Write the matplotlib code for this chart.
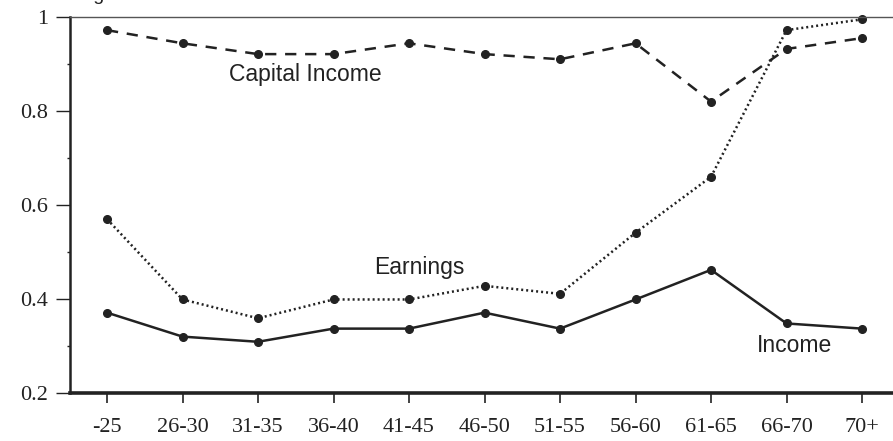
import matplotlib
matplotlib.use('Agg')
import matplotlib.pyplot as plt

age_groups = ['-25', '26-30', '31-35', '36-40', '41-45', '46-50',
              '51-55', '56-60', '61-65', '66-70', '70+']
capital_income = [0.972, 0.944, 0.921, 0.921, 0.944, 0.921,
                  0.910, 0.944, 0.820, 0.932, 0.955]
earnings = [0.570, 0.399, 0.359, 0.399, 0.399, 0.428,
            0.411, 0.541, 0.660, 0.972, 0.995]
income = [0.371, 0.320, 0.309, 0.337, 0.337, 0.371,
          0.337, 0.399, 0.462, 0.348, 0.337]

ink = '#222222'

def main():
  fig = plt.figure(figsize=(8.93, 4.41), dpi=100)
  ax = fig.add_axes([0.0784, 0.1088, 0.9216, 0.8527])
  x = list(range(len(age_groups)))

  ax.plot(x, capital_income, color=ink, lw=1.8, ls=(0, (4.5, 3.5)),
          marker='o', ms=5.5, clip_on=False)
  ax.plot(x, earnings, color=ink, lw=1.8, ls=(0, (0.8, 1.2)),
          marker='o', ms=5.5, clip_on=False)
  ax.plot(x, income, color=ink, lw=1.8, ls='-',
          marker='o', ms=5.5, clip_on=False)

  sans = 'Liberation Sans'
  ax.text(2.62, 0.877, 'Capital Income', ha='center', va='center',
          fontsize=16.5, family=sans, color=ink)
  ax.text(4.13, 0.468, 'Earnings', ha='center', va='center',
          fontsize=16.5, family=sans, color=ink)
  ax.text(9.11, 0.302, 'Income', ha='center', va='center',
          fontsize=16.5, family=sans, color=ink)

  # caption of the page, mostly cut off at the top edge like in the scan
  fig.text(0.086, 0.9995, 'Figure 6: Gini Coefficients', ha='left',
           va='baseline', fontsize=14, family=sans, color=ink)

  ax.set_xlim(-0.49, 10.41)
  ax.set_ylim(0.2, 1.0)
  ax.set_xticks(x)
  ax.set_xticklabels(age_groups)
  ax.set_yticks([0.2, 0.4, 0.6, 0.8, 1.0])
  ax.set_yticklabels(['0.2', '0.4', '0.6', '0.8', '1'])
  ax.set_yticks([0.3, 0.5, 0.7, 0.9], minor=True)

  for lab in ax.get_xticklabels() + ax.get_yticklabels():
    lab.set_family('Liberation Serif')
    lab.set_fontsize(16)
    lab.set_color(ink)
  ax.tick_params(axis='x', direction='out', length=7, width=1.2,
                 color=ink, pad=11)
  ax.tick_params(axis='y', direction='out', length=10, width=1.0,
                 color=ink, pad=6)
  ax.tick_params(axis='y', which='minor', direction='out', length=2,
                 width=1.0, color=ink)

  ax.spines['right'].set_visible(False)
  ax.spines['top'].set_linewidth(1.0)
  ax.spines['top'].set_color('#555555')
  ax.spines['left'].set_linewidth(1.8)
  ax.spines['left'].set_color(ink)
  ax.spines['bottom'].set_linewidth(2.6)
  ax.spines['bottom'].set_color(ink)

  fig.savefig('out.png', dpi=100)


if __name__ == "__main__":
  main()
